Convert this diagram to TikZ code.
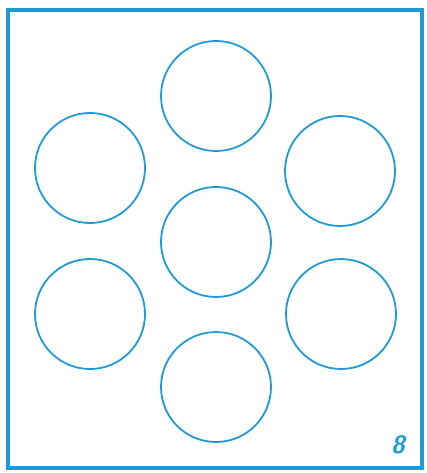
\documentclass[tikz,border=0pt]{standalone}
\usepackage{xcolor}
\definecolor{inkblue}{HTML}{1F9AD6}
\usepackage{tikz}
\usetikzlibrary{
  positioning
}

\begin{document}
\begin{tikzpicture}[
  x=1pt, y=-1pt,
  ring/.style={circle, draw=inkblue, line width=1.8pt, minimum size=110pt, inner sep=0pt},
  frame/.style={draw=inkblue, line width=3.2pt},
]
\useasboundingbox (0,0) rectangle (427,473);

\draw[frame] (8,10) rectangle (422,468);

\node[ring] (top) at (216,96) {};
\node[ring] (mid) at (216,242) {};
\node[ring] (bottom) at (216,387) {};
\node[ring] (upleft) at (90,168) {};
\node[ring] (upright) at (340,171) {};
\node[ring] (lowleft) at (90,314) {};
\node[ring] (lowright) at (341,314) {};

\node[text=inkblue, font=\sffamily\itshape\bfseries\fontsize{25}{25}\selectfont] (num) at (398,445) {8};

\end{tikzpicture}
\end{document}
